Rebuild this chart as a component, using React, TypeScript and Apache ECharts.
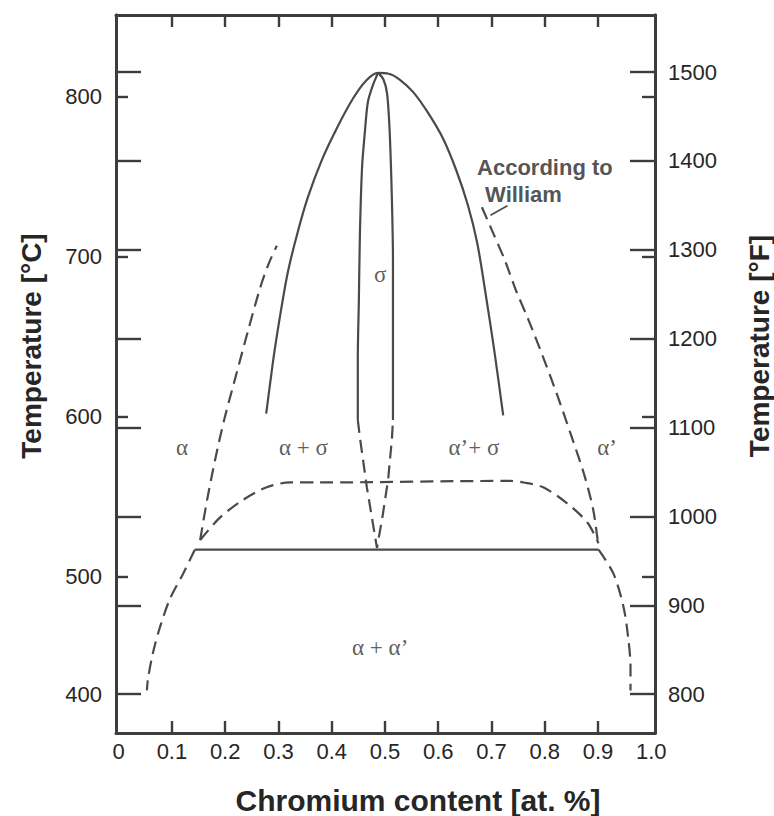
import React, { useEffect, useRef } from 'react';
import * as echarts from 'echarts';

// ---- axis extents (°C primary, °F secondary) ----
const X_MIN = -0.005;
const X_MAX = 1.007;
const C_MIN = 402.4;
const C_MAX = 851.2;
const toF = (c: number) => c * 1.8 + 32;

// ---- ticks & tick labels ----
const X_TICKS = [0.1, 0.2, 0.3, 0.4, 0.5, 0.6, 0.7, 0.8, 0.9];
const X_LABEL_VALUES = [0, 0.1, 0.2, 0.3, 0.4, 0.5, 0.6, 0.7, 0.8, 0.9, 1.0];
const C_TICKS = [500, 600, 700, 800];
const C_LABEL_VALUES = [426.67, 500, 600, 700, 800];
const C_LABEL_TEXT = ['400', '500', '600', '700', '800'];
const F_TICKS = [800, 900, 1000, 1100, 1200, 1300, 1400, 1500];

// ---- curves: [Cr fraction, °C] ----
const sigmaDome = [
  [0.277, 602], [0.284, 620], [0.293, 642], [0.305, 667], [0.318, 691], [0.335, 714],
  [0.355, 737], [0.382, 761], [0.412, 782], [0.440, 799], [0.464, 810], [0.487, 815],
  [0.507, 814.5], [0.527, 811], [0.553, 803], [0.581, 790], [0.609, 774], [0.634, 754],
  [0.656, 732], [0.673, 709], [0.688, 679], [0.705, 642], [0.722, 601],
];
const lensLeft = [
  [0.487, 815], [0.477, 807], [0.468, 797], [0.462, 777], [0.457, 756], [0.453, 715],
  [0.451, 673], [0.449, 636], [0.449, 598],
];
const lensRight = [
  [0.487, 815], [0.497, 811], [0.504, 802], [0.509, 777], [0.513, 736], [0.515, 698],
  [0.515, 661], [0.515, 598],
];
const lensBottom = [
  [0.449, 598], [0.453, 587], [0.466, 556], [0.476, 536], [0.485, 518],
  [0.496, 539], [0.506, 561], [0.513, 586], [0.515, 598],
];
const eutectoid = [[0.143, 517], [0.901, 517]];
const miscibilityTop = [
  [0.153, 523], [0.190, 537], [0.233, 548], [0.278, 556], [0.322, 559], [0.372, 559],
  [0.735, 560], [0.760, 559], [0.797, 556], [0.842, 546], [0.880, 534], [0.901, 521],
];
const alphaSolvus = [
  [0.153, 523], [0.166, 548], [0.181, 573], [0.198, 598], [0.222, 628], [0.243, 654],
  [0.266, 681], [0.282, 696], [0.297, 707],
];
const alphaLower = [
  [0.143, 517], [0.121, 502], [0.096, 486], [0.078, 469], [0.064, 452], [0.055, 436], [0.053, 429],
];
const alphaPrimeLower = [
  [0.901, 517], [0.929, 502], [0.948, 481], [0.957, 461], [0.961, 444], [0.961, 429],
];
const williamSolvus = [
  [0.682, 731], [0.703, 715], [0.725, 698], [0.746, 679], [0.769, 661], [0.795, 639],
  [0.823, 614], [0.849, 589], [0.874, 564], [0.891, 542], [0.900, 521],
];
const leader = [[0.698, 726], [0.730, 732]];

// ---- region labels ----
const phaseNames = ['α', 'α + σ', 'σ', 'α’+ σ', 'α’', 'α + α’'];
const phasePos = [[0.119, 581], [0.347, 581], [0.491, 689], [0.667, 581], [0.917, 581], [0.491, 456]];
const noteLines = ['According to', 'William'];
const notePos = [[0.672, 756], [0.687, 739]];

const AXIS_COLOR = '#3d3d3d';
const CURVE_COLOR = '#4a4a4a';
const TEXT_COLOR = '#262626';
const SANS = 'Liberation Sans, Arial, Helvetica, sans-serif';
const SERIF = 'Liberation Serif, Times New Roman, DejaVu Serif, serif';

function lineSeries(data: number[][], dashed: boolean, smooth: number | boolean = 0.3) {
  return {
    type: 'line',
    xAxisIndex: 0,
    yAxisIndex: 0,
    data,
    symbol: 'none',
    smooth,
    silent: true,
    lineStyle: { color: CURVE_COLOR, width: 2.2, type: dashed ? [13, 7] : 'solid' },
  };
}

export default function App() {
  const ref = useRef<HTMLDivElement>(null);
  useEffect(() => {
    document.body.style.margin = '0';
    if (!ref.current) return;
    const chart = echarts.init(ref.current, undefined, { renderer: 'svg' });

    const axisLine = { show: true, onZero: false, lineStyle: { color: AXIS_COLOR, width: 3 } };
    const tickStyle = { color: AXIS_COLOR, width: 2.4 };
    const labelStyle = { color: TEXT_COLOR, fontSize: 22, fontFamily: SANS };
    const F_MIN = toF(C_MIN);
    const F_MAX = toF(C_MAX);

    const option: any = {
      animation: false,
      backgroundColor: '#ffffff',
      grid: { left: 116, top: 15, width: 539, height: 718, containLabel: false, outerBoundsMode: 'none' },
      xAxis: [
        {
          type: 'value', position: 'bottom', min: X_MIN, max: X_MAX,
          axisLine, splitLine: { show: false },
          axisTick: { show: true, inside: true, length: 12, lineStyle: tickStyle, customValues: X_TICKS },
          axisLabel: {
            ...labelStyle, margin: 7, customValues: X_LABEL_VALUES,
            formatter: (v: number) => (v === 0 ? '0' : v.toFixed(1)),
          },
        },
        {
          type: 'value', position: 'top', min: X_MIN, max: X_MAX,
          axisLine, splitLine: { show: false },
          axisTick: { show: true, inside: true, length: 12, lineStyle: tickStyle, customValues: X_TICKS },
          axisLabel: { show: false },
        },
      ],
      yAxis: [
        {
          type: 'value', position: 'left', min: C_MIN, max: C_MAX,
          axisLine, splitLine: { show: false },
          axisTick: { show: true, inside: true, length: 12, lineStyle: tickStyle, customValues: C_TICKS },
          axisLabel: {
            ...labelStyle, margin: 14, customValues: C_LABEL_VALUES,
            formatter: (v: number) => {
              const i = C_LABEL_VALUES.findIndex((c) => Math.abs(c - v) < 0.05);
              return i >= 0 ? C_LABEL_TEXT[i] : '';
            },
          },
        },
        {
          type: 'value', position: 'left', min: F_MIN, max: F_MAX,
          axisLine, splitLine: { show: false },
          axisTick: { show: true, inside: true, length: 25, lineStyle: tickStyle, customValues: F_TICKS },
          axisLabel: { show: false },
        },
        {
          type: 'value', position: 'right', min: F_MIN, max: F_MAX,
          axisLine, splitLine: { show: false },
          axisTick: { show: true, inside: true, length: 25, lineStyle: tickStyle, customValues: F_TICKS },
          axisLabel: { ...labelStyle, margin: 13, customValues: F_TICKS, formatter: (v: number) => String(Math.round(v)) },
        },
        {
          type: 'value', position: 'right', min: C_MIN, max: C_MAX,
          axisLine, splitLine: { show: false },
          axisTick: { show: true, inside: true, length: 13, lineStyle: tickStyle, customValues: C_TICKS },
          axisLabel: { show: false },
        },
      ],
      series: [
        lineSeries(sigmaDome, false, 0.35),
        lineSeries(lensLeft, false),
        lineSeries(lensRight, false),
        lineSeries(lensBottom, true, false),
        lineSeries(eutectoid, false, false),
        lineSeries(miscibilityTop, true),
        lineSeries(alphaSolvus, true),
        lineSeries(alphaLower, true),
        lineSeries(alphaPrimeLower, true),
        lineSeries(williamSolvus, true),
        { ...lineSeries(leader, false, false), lineStyle: { color: CURVE_COLOR, width: 1.6 } },
        {
          type: 'scatter', xAxisIndex: 0, yAxisIndex: 0, silent: true,
          symbolSize: 1, itemStyle: { color: 'rgba(0,0,0,0)' },
          data: phaseNames.map((n, i) => ({ name: n, value: phasePos[i] })),
          label: {
            show: true, position: 'inside', formatter: '{b}',
            color: '#333333', fontSize: 23, fontFamily: SERIF,
          },
        },
        {
          type: 'scatter', xAxisIndex: 0, yAxisIndex: 0, silent: true,
          symbolSize: 1, itemStyle: { color: 'rgba(0,0,0,0)' },
          data: noteLines.map((n, i) => ({ name: n, value: notePos[i] })),
          label: {
            show: true, position: 'right', distance: 0, formatter: '{b}',
            color: TEXT_COLOR, fontSize: 22, fontWeight: 'bold', fontFamily: SANS,
          },
        },
      ],
      graphic: [
        {
          type: 'text', x: 31, y: 346, rotation: Math.PI / 2,
          style: { text: 'Temperature [°C]', font: `bold 28px ${SANS}`, fill: TEXT_COLOR, align: 'center', verticalAlign: 'middle' },
        },
        {
          type: 'text', x: 759, y: 346, rotation: Math.PI / 2,
          style: { text: 'Temperature [°F]', font: `bold 28px ${SANS}`, fill: TEXT_COLOR, align: 'center', verticalAlign: 'middle' },
        },
        {
          type: 'text', x: 418, y: 800,
          style: { text: 'Chromium content [at. %]', font: `bold 30px ${SANS}`, fill: TEXT_COLOR, align: 'center', verticalAlign: 'middle' },
        },
      ],
    };
    chart.setOption(option);
    return () => chart.dispose();
  }, []);
  return <div ref={ref} style={{ width: 774, height: 816 }} />;
}
